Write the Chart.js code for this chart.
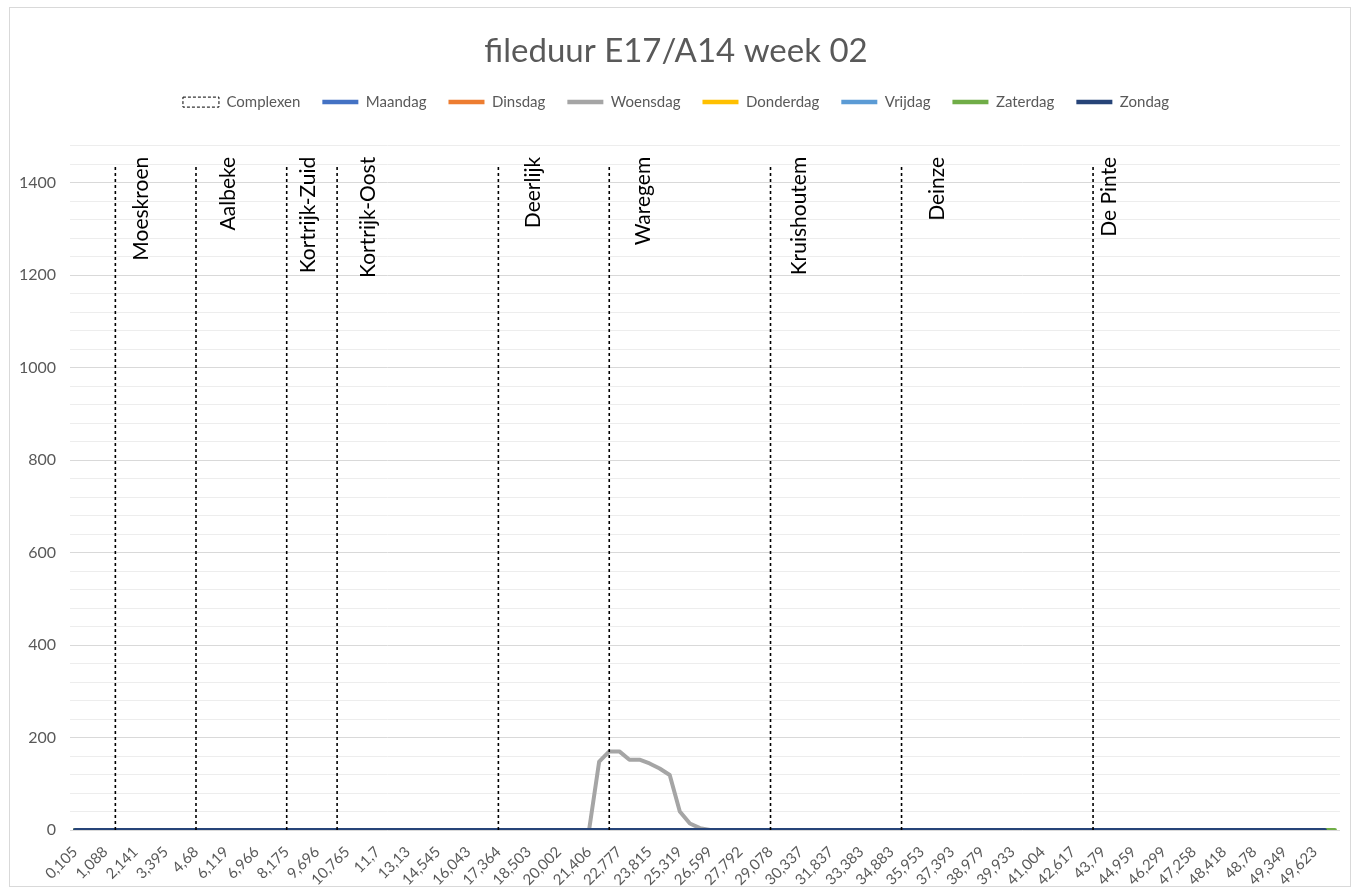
<!DOCTYPE html>
<html>
<head>
<meta charset="utf-8">
<script src="https://cdn.jsdelivr.net/npm/chart.js@4.4.0/dist/chart.umd.min.js"></script>
<style>
html,body{margin:0;padding:0;background:#fff;}
#wrap{width:1359px;height:894px;position:relative;}
</style>
</head>
<body>
<div id="wrap"><canvas id="c" width="1359" height="894"></canvas></div>
<script>
// ---------- DATA ----------
const chartTitle = 'fileduur E17/A14 week 02';

// visible x tick labels (every 3rd category of 126)
const tickLabels = ['0,105','1,088','2,141','3,395','4,68','6,119','6,966','8,175','9,696','10,765',
  '11,7','13,13','14,545','16,043','17,364','18,503','20,002','21,406','22,777','23,815',
  '25,319','26,599','27,792','29,078','30,337','31,837','33,383','34,883','35,953','37,393',
  '38,979','39,933','41,004','42,617','43,79','44,959','46,299','47,258','48,418','48,78',
  '49,349','49,623'];
const tickEvery = 3;
const categoryCount = 126;

// Complexen (interchange markers): category index, name
const complexNames = ['Moeskroen','Aalbeke','Kortrijk-Zuid','Kortrijk-Oost','Deerlijk','Waregem','Kruishoutem','Deinze','De Pinte'];
const complexIdx   = [4, 12, 21, 26, 42, 53, 69, 82, 101];
const complexValue = 1440;

// day series (minutes), 126 categories each
const maandag = [
  0,0,0,0,0, 0,0,0,0,0, 0,0,0,0,0, 0,0,0,0,0, 0,
  0,0,0,0,0, 0,0,0,0,0, 0,0,0,0,0, 0,0,0,0,0, 0,
  0,0,0,0,0, 0,0,0,0,0, 0,0,0,0,0, 0,0,0,0,0, 0,
  0,0,0,0,0, 0,0,0,0,0, 0,0,0,0,0, 0,0,0,0,0, 0,
  0,0,0,0,0, 0,0,0,0,0, 0,0,0,0,0, 0,0,0,0,0, 0,
  0,0,0,0,0, 0,0,0,0,0, 0,0,0,0,0, 0,0,0,0,0, null];
const dinsdag = [
  0,0,0,0,0, 0,0,0,0,0, 0,0,0,0,0, 0,0,0,0,0, 0,
  0,0,0,0,0, 0,0,0,0,0, 0,0,0,0,0, 0,0,0,0,0, 0,
  0,0,0,0,0, 0,0,0,0,0, 0,0,0,0,0, 0,0,0,0,0, 0,
  0,0,0,0,0, 0,0,0,0,0, 0,0,0,0,0, 0,0,0,0,0, 0,
  0,0,0,0,0, 0,0,0,0,0, 0,0,0,0,0, 0,0,0,0,0, 0,
  0,0,0,0,0, 0,0,0,0,0, 0,0,0,0,0, 0,0,0,0,0, null];
const woensdag = [
  0,0,0,0,0, 0,0,0,0,0, 0,0,0,0,0, 0,0,0,0,0, 0,
  0,0,0,0,0, 0,0,0,0,0, 0,0,0,0,0, 0,0,0,0,0, 0,
  0,0,0,0,0, 0,0,0,0,0, 148,170,170,152,152, 144,133,119,40,14, 4,
  0,0,0,0,0, 0,0,0,0,0, 0,0,0,0,0, 0,0,0,0,0, 0,
  0,0,0,0,0, 0,0,0,0,0, 0,0,0,0,0, 0,0,0,0,0, 0,
  0,0,0,0,0, 0,0,0,0,0, 0,0,0,0,0, 0,0,0,0,0, null];
const donderdag = [
  0,0,0,0,0, 0,0,0,0,0, 0,0,0,0,0, 0,0,0,0,0, 0,
  0,0,0,0,0, 0,0,0,0,0, 0,0,0,0,0, 0,0,0,0,0, 0,
  0,0,0,0,0, 0,0,0,0,0, 0,0,0,0,0, 0,0,0,0,0, 0,
  0,0,0,0,0, 0,0,0,0,0, 0,0,0,0,0, 0,0,0,0,0, 0,
  0,0,0,0,0, 0,0,0,0,0, 0,0,0,0,0, 0,0,0,0,0, 0,
  0,0,0,0,0, 0,0,0,0,0, 0,0,0,0,0, 0,0,0,0,0, null];
const vrijdag = [
  0,0,0,0,0, 0,0,0,0,0, 0,0,0,0,0, 0,0,0,0,0, 0,
  0,0,0,0,0, 0,0,0,0,0, 0,0,0,0,0, 0,0,0,0,0, 0,
  0,0,0,0,0, 0,0,0,0,0, 0,0,0,0,0, 0,0,0,0,0, 0,
  0,0,0,0,0, 0,0,0,0,0, 0,0,0,0,0, 0,0,0,0,0, 0,
  0,0,0,0,0, 0,0,0,0,0, 0,0,0,0,0, 0,0,0,0,0, 0,
  0,0,0,0,0, 0,0,0,0,0, 0,0,0,0,0, 0,0,0,0,0, null];
const zaterdag = [
  0,0,0,0,0, 0,0,0,0,0, 0,0,0,0,0, 0,0,0,0,0, 0,
  0,0,0,0,0, 0,0,0,0,0, 0,0,0,0,0, 0,0,0,0,0, 0,
  0,0,0,0,0, 0,0,0,0,0, 0,0,0,0,0, 0,0,0,0,0, 0,
  0,0,0,0,0, 0,0,0,0,0, 0,0,0,0,0, 0,0,0,0,0, 0,
  0,0,0,0,0, 0,0,0,0,0, 0,0,0,0,0, 0,0,0,0,0, 0,
  0,0,0,0,0, 0,0,0,0,0, 0,0,0,0,0, 0,0,0,0,0, 0];
const zondag = [
  0,0,0,0,0, 0,0,0,0,0, 0,0,0,0,0, 0,0,0,0,0, 0,
  0,0,0,0,0, 0,0,0,0,0, 0,0,0,0,0, 0,0,0,0,0, 0,
  0,0,0,0,0, 0,0,0,0,0, 0,0,0,0,0, 0,0,0,0,0, 0,
  0,0,0,0,0, 0,0,0,0,0, 0,0,0,0,0, 0,0,0,0,0, 0,
  0,0,0,0,0, 0,0,0,0,0, 0,0,0,0,0, 0,0,0,0,0, 0,
  0,0,0,0,0, 0,0,0,0,0, 0,0,0,0,0, 0,0,0,0,0, null];

const dayNames  = ['Maandag','Dinsdag','Woensdag','Donderdag','Vrijdag','Zaterdag','Zondag'];
const daySeries = [maandag, dinsdag, woensdag, donderdag, vrijdag, zaterdag, zondag];
const yTickLabelStep = 200;

// ---------- STYLE ----------
const dayColors = ['#4472C4','#ED7D31','#A5A5A5','#FFC000','#5B9BD5','#70AD47','#264478'];
const FONT = 'Lato, "Noto Sans", sans-serif';
const TEXT_GREY = '#595959';
const labelDx = [26, 32, 22, 31, 35, 34, 29, 36, 16];

// ---------- BUILD ----------
const toXY = arr => arr.map((v, i) => ({x: i, y: v}));
const complexData = [];
complexIdx.forEach(i => {
  complexData.push({x: i, y: 0}, {x: i, y: complexValue}, {x: i, y: null});
});

const datasets = [{
  label: 'Complexen',
  data: complexData,
  borderColor: '#000000',
  backgroundColor: 'rgba(0,0,0,0)',
  borderWidth: 1.6,
  borderDash: [3, 3],
  pointRadius: 0,
  spanGaps: false,
  order: 0,
  _legend: {pointStyle: 'rect', lineWidth: 1, dash: [3, 2]}
}];
dayNames.forEach((name, k) => {
  datasets.push({
    label: name,
    data: toXY(daySeries[k]),
    borderColor: dayColors[k],
    backgroundColor: dayColors[k],
    borderWidth: 4,
    borderCapStyle: 'round',
    borderJoinStyle: 'round',
    pointRadius: 0,
    tension: 0,
    spanGaps: false,
    order: 7 - k,
    _legend: {pointStyle: 'line', lineWidth: 4.5, dash: []}
  });
});

const bgPlugin = {
  id: 'bgBorder',
  beforeDraw(chart) {
    const ctx = chart.ctx;
    ctx.save();
    ctx.fillStyle = '#ffffff';
    ctx.fillRect(0, 0, chart.width, chart.height);
    ctx.strokeStyle = '#D9D9D9';
    ctx.lineWidth = 1;
    ctx.strokeRect(9.5, 7.5, 1341, 879);
    ctx.restore();
  }
};

const complexLabelPlugin = {
  id: 'complexLabels',
  afterDatasetsDraw(chart) {
    const {ctx, chartArea} = chart;
    const xs = chart.scales.x;
    ctx.save();
    ctx.font = '21px ' + FONT;
    ctx.fillStyle = '#000000';
    ctx.textAlign = 'right';
    ctx.textBaseline = 'middle';
    complexNames.forEach((name, i) => {
      const px = xs.getPixelForValue(complexIdx[i]) + labelDx[i];
      const py = chartArea.top + 11;
      ctx.save();
      ctx.translate(px, py);
      ctx.rotate(-Math.PI / 2);
      ctx.fillText(name, 0, 0);
      ctx.restore();
    });
    ctx.restore();
  }
};

new Chart(document.getElementById('c'), {
  type: 'line',
  data: {datasets},
  plugins: [bgPlugin, complexLabelPlugin],
  options: {
    responsive: false,
    animation: false,
    layout: {padding: {left: 12, right: 19, top: 12, bottom: 8}},
    plugins: {
      tooltip: {enabled: false},
      title: {
        display: true,
        text: chartTitle,
        color: TEXT_GREY,
        font: {family: FONT, size: 33, weight: 'normal'},
        padding: {top: 20, bottom: 1}
      },
      subtitle: {
        display: true,
        text: ' ',
        weight: 500,
        font: {size: 1},
        padding: {top: 0, bottom: 25}
      },
      legend: {
        display: true,
        position: 'top',
        weight: 1000,
        labels: {
          usePointStyle: true,
          pointStyleWidth: 36,
          boxHeight: 10,
          padding: 22,
          color: TEXT_GREY,
          font: {family: FONT, size: 15},
          generateLabels(chart) {
            return chart.data.datasets.map((ds, i) => ({
              text: ds.label,
              fillStyle: ds._legend.pointStyle === 'rect' ? 'rgba(0,0,0,0)' : ds.borderColor,
              strokeStyle: ds.borderColor,
              lineWidth: ds._legend.lineWidth,
              lineDash: ds._legend.dash,
              lineCap: 'butt',
              pointStyle: ds._legend.pointStyle,
              fontColor: TEXT_GREY,
              hidden: false,
              datasetIndex: i
            }));
          }
        }
      }
    },
    scales: {
      x: {
        type: 'linear',
        min: -0.5,
        max: categoryCount - 0.5,
        grid: {display: false},
        border: {display: false},
        afterBuildTicks(scale) {
          scale.ticks = tickLabels.map((t, j) => ({value: j * tickEvery}));
        },
        afterFit(scale) { scale.height = 56; },
        ticks: {
          autoSkip: false,
          maxRotation: 45,
          minRotation: 45,
          padding: 5,
          color: TEXT_GREY,
          font: {family: FONT, size: 15},
          callback: (v, idx) => tickLabels[idx]
        }
      },
      y: {
        min: 0,
        max: 1480,
        border: {display: false},
        afterFit(scale) { scale.width = 58; },
        grid: {
          drawTicks: false,
          color: c => (c.tick && c.tick.value % yTickLabelStep === 0) ? '#D9D9D9' : '#EDEDED',
          lineWidth: 1
        },
        ticks: {
          stepSize: 40,
          maxTicksLimit: 100,
          autoSkip: false,
          padding: 14,
          color: TEXT_GREY,
          font: {family: FONT, size: 16},
          callback: v => (v % yTickLabelStep === 0 && v <= 1400) ? String(v) : ''
        }
      }
    }
  }
});
</script>
</body>
</html>
